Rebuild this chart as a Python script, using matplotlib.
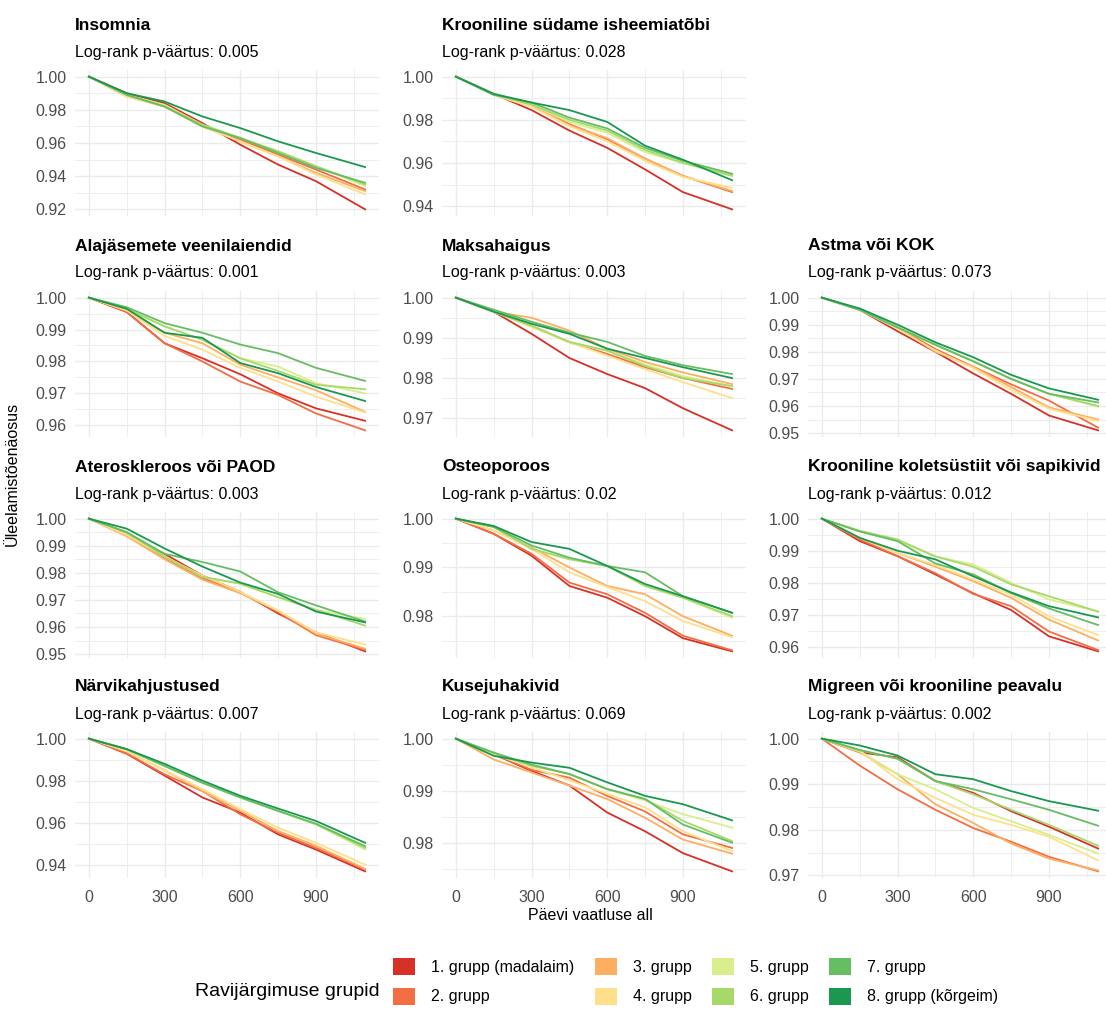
import matplotlib
matplotlib.use("Agg")
import matplotlib.pyplot as plt
from matplotlib.patches import Patch
from matplotlib.ticker import MultipleLocator, FormatStrFormatter

plt.rcParams['font.family'] = ['Liberation Sans', 'DejaVu Sans']

days = [0, 150, 300, 450, 600, 750, 900, 1095]

group_labels = ['1. grupp (madalaim)', '2. grupp', '3. grupp', '4. grupp',
                '5. grupp', '6. grupp', '7. grupp', '8. grupp (kõrgeim)']
group_colors = ['#d73027', '#f46d43', '#fdae61', '#fee08b',
                '#d9ef8b', '#a6d96a', '#66bd63', '#1a9850']

titles = ['Insomnia', 'Krooniline südame isheemiatõbi', 'Alajäsemete veenilaiendid',
          'Maksahaigus', 'Astma või KOK', 'Ateroskleroos või PAOD', 'Osteoporoos',
          'Krooniline koletsüstiit või sapikivid', 'Närvikahjustused',
          'Kusejuhakivid', 'Migreen või krooniline peavalu']
p_values = ['0.005', '0.028', '0.001', '0.003', '0.073', '0.003', '0.02',
            '0.012', '0.007', '0.069', '0.002']

# survival probability per group (rows = group 1..8)
insomnia = [
    [1, .990, .984, .972, .959, .947, .937, .920],
    [1, .989, .983, .971, .962, .953, .944, .932],
    [1, .988, .982, .970, .961, .952, .942, .931],
    [1, .988, .982, .970, .961, .952, .941, .929],
    [1, .989, .983, .971, .963, .955, .946, .934],
    [1, .989, .982, .971, .963, .955, .946, .935],
    [1, .989, .982, .970, .963, .954, .945, .936],
    [1, .990, .985, .976, .969, .961, .954, .9455],
]
sudame = [
    [1, .992, .9845, .975, .967, .957, .9465, .9385],
    [1, .992, .987, .978, .971, .962, .954, .9465],
    [1, .992, .987, .9775, .9715, .962, .954, .947],
    [1, .9915, .986, .977, .970, .961, .9535, .9485],
    [1, .992, .987, .979, .974, .965, .960, .9545],
    [1, .992, .987, .980, .975, .966, .960, .954],
    [1, .9915, .988, .981, .976, .967, .961, .955],
    [1, .992, .988, .9845, .979, .968, .9615, .952],
]
veenilaiendid = [
    [1, .9955, .9857, .981, .976, .970, .9653, .9614],
    [1, .9955, .9857, .980, .9737, .9695, .9637, .9584],
    [1, .996, .989, .9857, .979, .975, .971, .9642],
    [1, .996, .988, .9837, .978, .9737, .969, .964],
    [1, .9965, .991, .9868, .981, .9784, .9732, .970],
    [1, .9965, .991, .9868, .981, .977, .9727, .9713],
    [1, .997, .992, .989, .9853, .9826, .978, .9739],
    [1, .9965, .989, .9874, .9795, .9763, .972, .9676],
]
maksahaigus = [
    [1, .9965, .991, .985, .981, .9775, .9725, .967],
    [1, .9965, .993, .9889, .986, .9827, .980, .9773],
    [1, .9965, .995, .9918, .9873, .984, .9814, .9785],
    [1, .9965, .9927, .9889, .9856, .9822, .979, .975],
    [1, .9965, .993, .9889, .9868, .9834, .9805, .978],
    [1, .9965, .993, .989, .9868, .983, .980, .978],
    [1, .997, .994, .9913, .989, .9855, .9832, .981],
    [1, .9965, .9935, .991, .9873, .985, .9827, .980],
]
astma = [
    [1, .9955, .9876, .980, .972, .9645, .9565, .951],
    [1, .9955, .989, .981, .9745, .968, .962, .952],
    [1, .9955, .989, .980, .9745, .967, .9595, .955],
    [1, .9955, .9885, .9805, .974, .966, .959, .9545],
    [1, .9955, .989, .9826, .9765, .970, .9645, .9597],
    [1, .9955, .989, .9826, .9765, .970, .9645, .960],
    [1, .9955, .989, .9826, .9765, .970, .9645, .9613],
    [1, .996, .990, .9835, .978, .9715, .9665, .9623],
]
ateroskleroos = [
    [1, .994, .987, .979, .973, .965, .958, .951],
    [1, .994, .9853, .978, .9727, .9655, .957, .9515],
    [1, .9935, .985, .9775, .9725, .966, .9575, .952],
    [1, .994, .986, .979, .973, .966, .958, .9535],
    [1, .995, .986, .9785, .976, .971, .9663, .963],
    [1, .995, .986, .9785, .976, .971, .9663, .9605],
    [1, .995, .987, .984, .9805, .9728, .968, .962],
    [1, .9963, .989, .9823, .9764, .9722, .9657, .9617],
]
osteoporoos = [
    [1, .9969, .9924, .9862, .9838, .980, .9755, .9728],
    [1, .9969, .9928, .9869, .9845, .9807, .976, .973],
    [1, .9976, .9941, .990, .9862, .9845, .980, .976],
    [1, .9976, .9938, .989, .986, .9831, .979, .9757],
    [1, .9983, .9938, .9917, .9903, .9862, .9838, .9797],
    [1, .9983, .9938, .9917, .9903, .9862, .9838, .980],
    [1, .9983, .9945, .992, .9903, .989, .9841, .9807],
    [1, .9985, .9952, .9938, .9903, .9866, .9841, .9807],
]
koletsustiit = [
    [1, .993, .9883, .9826, .9767, .9715, .9633, .9586],
    [1, .9935, .9883, .983, .9765, .9727, .9648, .959],
    [1, .994, .9893, .985, .9805, .9753, .9685, .962],
    [1, .994, .9893, .9855, .981, .9763, .9695, .9637],
    [1, .996, .993, .9882, .9857, .980, .9748, .971],
    [1, .9962, .9935, .9882, .985, .9795, .9758, .971],
    [1, .996, .993, .986, .9826, .9768, .972, .9668],
    [1, .994, .990, .9873, .982, .977, .9727, .9692],
]
narvikahjustused = [
    [1, .9928, .9824, .972, .9648, .9544, .9472, .9368],
    [1, .993, .983, .975, .964, .9552, .948, .9376],
    [1, .994, .985, .975, .9656, .956, .949, .938],
    [1, .994, .985, .976, .9664, .9576, .9504, .940],
    [1, .995, .987, .979, .972, .9656, .9592, .9472],
    [1, .995, .987, .979, .972, .9656, .9592, .948],
    [1, .995, .987, .979, .972, .9656, .9595, .9488],
    [1, .995, .988, .980, .9728, .9667, .9608, .9504],
]
kusejuhakivid = [
    [1, .997, .9938, .991, .9858, .9822, .978, .9745],
    [1, .997, .994, .9925, .989, .986, .9816, .979],
    [1, .996, .9935, .991, .9884, .9848, .9806, .9779],
    [1, .997, .9945, .992, .9894, .9868, .9822, .9784],
    [1, .997, .9948, .9932, .9903, .9881, .9855, .9829],
    [1, .9973, .9948, .9932, .9903, .9884, .9842, .9803],
    [1, .9973, .995, .9932, .9903, .9884, .9835, .980],
    [1, .9967, .9954, .9944, .9916, .989, .9874, .9843],
]
migreen = [
    [1, .997, .9959, .9907, .9881, .9841, .9807, .9759],
    [1, .9941, .9889, .9844, .9804, .9774, .9741, .9709],
    [1, .997, .9922, .9856, .9815, .977, .9737, .9711],
    [1, .9973, .9911, .987, .9833, .9811, .9785, .9733],
    [1, .9973, .9922, .9889, .9848, .9819, .9789, .9748],
    [1, .9975, .9956, .9907, .9878, .9844, .9811, .9765],
    [1, .9975, .9956, .9907, .9889, .9867, .9844, .9809],
    [1, .9985, .9963, .9922, .9911, .9885, .9863, .9842],
]

curves = [insomnia, sudame, veenilaiendid, maksahaigus, astma, ateroskleroos,
          osteoporoos, koletsustiit, narvikahjustused, kusejuhakivid, migreen]
y_steps = [0.02, 0.02, 0.01, 0.01, 0.01, 0.01, 0.01, 0.01, 0.02, 0.01, 0.01]
grid_pos = [(0, 0), (0, 1), (1, 0), (1, 1), (1, 2), (2, 0), (2, 1), (2, 2),
            (3, 0), (3, 1), (3, 2)]

W, H = 1106, 1010
col_left = [75, 442, 808]
row_top = [70, 291, 512, 732]
pw, ph = 304, 146

fig = plt.figure(figsize=(W / 100, H / 100), dpi=100)
fig.patch.set_facecolor('white')

for i, (r, c) in enumerate(grid_pos):
    x0, y0 = col_left[c], row_top[r]
    ax = fig.add_axes([x0 / W, 1 - (y0 + ph) / H, pw / W, ph / H])
    data = curves[i]
    for g in range(8):
        ax.plot(days, data[g], color=group_colors[g], lw=1.3)
    lo = min(min(s) for s in data)
    pad = 0.05 * (1 - lo)
    ax.set_ylim(lo - pad, 1 + pad)
    ax.set_xlim(-55, 1150)
    ax.yaxis.set_major_locator(MultipleLocator(y_steps[i]))
    ax.yaxis.set_minor_locator(MultipleLocator(y_steps[i] / 2))
    ax.yaxis.set_major_formatter(FormatStrFormatter('%.2f'))
    ax.xaxis.set_major_locator(MultipleLocator(300))
    ax.xaxis.set_minor_locator(MultipleLocator(150))
    ax.grid(which='major', color='#ebebeb', lw=1.0)
    ax.grid(which='minor', color='#ebebeb', lw=0.6)
    ax.set_axisbelow(True)
    for sp in ax.spines.values():
        sp.set_visible(False)
    ax.tick_params(which='both', length=0, labelsize=11.5, labelcolor='#4d4d4d')
    ax.tick_params(axis='y', pad=6)
    ax.tick_params(axis='x', pad=9, labelbottom=(r == 3))
    fig.text(x0 / W, 1 - (y0 - 45) / H, titles[i], fontsize=12.5,
             fontweight='bold', ha='left', va='center')
    fig.text(x0 / W, 1 - (y0 - 18) / H, 'Log-rank p-väärtus: ' + p_values[i],
             fontsize=11.5, ha='left', va='center')

fig.text(12 / W, 1 - 474 / H, 'Üleelamistõenäosus', rotation=90,
         fontsize=11.5, ha='center', va='center')
fig.text(590 / W, 1 - 915 / H, 'Päevi vaatluse all', fontsize=11.5,
         ha='center', va='center')

handles = [Patch(facecolor=col, edgecolor='none') for col in group_colors]
fig.legend(handles, group_labels, loc='upper left',
           bbox_to_anchor=(393 / W, 1 - 958 / H), ncol=4, frameon=False,
           fontsize=11.5, handlelength=1.4, handleheight=1.25,
           handletextpad=1.0, columnspacing=1.25, labelspacing=0.8,
           borderpad=0, borderaxespad=0)
fig.text(195 / W, 1 - 991 / H, 'Ravijärgimuse grupid', fontsize=14,
         ha='left', va='center')

fig.savefig('out.png', dpi=100, facecolor='white')
